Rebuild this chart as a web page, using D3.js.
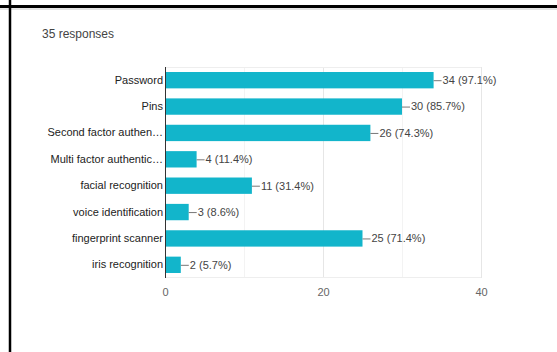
<!DOCTYPE html>
<html>
<head>
<meta charset="utf-8">
<script src="https://cdn.jsdelivr.net/npm/d3@7"></script>
<style>
  html, body { margin: 0; padding: 0; background: #fff; }
  svg { display: block; font-family: "Liberation Sans", Arial, sans-serif; }
</style>
</head>
<body>
<svg id="chart" width="557" height="352"></svg>
<script>
// Survey answers: how respondents authenticate
const categories = [
  "Password",
  "Pins",
  "Second factor authen\u2026",
  "Multi factor authentic\u2026",
  "facial recognition",
  "voice identification",
  "fingerprint scanner",
  "iris recognition"
];
const counts = [34, 30, 26, 4, 11, 3, 25, 2];
const percents = ["97.1%", "85.7%", "74.3%", "11.4%", "31.4%", "8.6%", "71.4%", "5.7%"];
const tickValues = [0, 20, 40];
const minorTicks = [10, 30];
const totalResponses = 35;

const svg = d3.select("#chart");

// Card frame
svg.append("rect").attr("x", 0).attr("y", 0).attr("width", 557).attr("height", 352).attr("fill", "#fff");
svg.append("line").attr("x1", 0).attr("x2", 557).attr("y1", 6.5).attr("y2", 6.5)
  .attr("stroke", "#000").attr("stroke-width", 3);
svg.append("line").attr("x1", 0).attr("x2", 557).attr("y1", 9).attr("y2", 9)
  .attr("stroke", "#c8c8c8").attr("stroke-width", 1);
svg.append("line").attr("x1", 10).attr("x2", 10).attr("y1", 0).attr("y2", 352)
  .attr("stroke", "#000").attr("stroke-width", 2.5);

svg.append("text")
  .attr("x", 42).attr("y", 38)
  .attr("font-size", 12).attr("fill", "#444")
  .text(`${totalResponses} responses`);

const plot = { left: 165, right: 481, top: 67, bottom: 278 };

const x = d3.scaleLinear().domain([0, 40]).range([plot.left, plot.right]);
const y = d3.scaleBand().domain(categories).range([plot.top, plot.bottom]).paddingInner(0.38).paddingOuter(0.19);

// Grid
const g = svg.append("g");
g.selectAll("line.minor").data(minorTicks).join("line")
  .attr("x1", d => x(d) + 0.5).attr("x2", d => x(d) + 0.5)
  .attr("y1", plot.top).attr("y2", plot.bottom)
  .attr("stroke", "#f3f3f3");
g.selectAll("line.major").data(tickValues.slice(1)).join("line")
  .attr("x1", d => x(d) + 0.5).attr("x2", d => x(d) + 0.5)
  .attr("y1", plot.top).attr("y2", plot.bottom)
  .attr("stroke", "#e6e6e6");
g.append("line").attr("x1", plot.left).attr("x2", plot.right)
  .attr("y1", plot.top + 0.5).attr("y2", plot.top + 0.5).attr("stroke", "#eeeeee");
g.append("line").attr("x1", plot.left).attr("x2", plot.right)
  .attr("y1", plot.bottom - 0.5).attr("y2", plot.bottom - 0.5).attr("stroke", "#eeeeee");

// Bars
svg.selectAll("rect.bar").data(categories).join("rect")
  .attr("class", "bar")
  .attr("x", x(0))
  .attr("y", d => y(d))
  .attr("width", (d, i) => x(counts[i]) - x(0))
  .attr("height", y.bandwidth())
  .attr("fill", "#12b5cb");

// Zero baseline
svg.append("line")
  .attr("x1", x(0) + 0.5).attr("x2", x(0) + 0.5)
  .attr("y1", plot.top).attr("y2", plot.bottom)
  .attr("stroke", "#333").attr("stroke-width", 1);

// Value labels with leader lines
const labels = svg.append("g");
categories.forEach((c, i) => {
  const xe = x(counts[i]);
  const yc = y(c) + y.bandwidth() / 2;
  labels.append("line")
    .attr("x1", xe).attr("x2", xe + 8)
    .attr("y1", yc + 0.5).attr("y2", yc + 0.5)
    .attr("stroke", "#777").attr("stroke-width", 1);
  labels.append("text")
    .attr("x", xe + 9).attr("y", yc)
    .attr("dy", "0.35em")
    .attr("font-size", 11).attr("fill", "#444")
    .text(`${counts[i]} (${percents[i]})`);
});

// Category axis
const yAxis = svg.append("g")
  .attr("transform", `translate(${plot.left},0)`)
  .call(d3.axisLeft(y).tickSize(0).tickPadding(2));
yAxis.select(".domain").remove();
yAxis.selectAll("text").attr("font-size", 11).attr("fill", "#222")
  .attr("font-family", "'Liberation Sans', Arial, sans-serif");

// Value axis
const xAxis = svg.append("g")
  .attr("transform", `translate(0,${plot.bottom})`)
  .call(d3.axisBottom(x).tickValues(tickValues).tickSize(0).tickPadding(10));
xAxis.select(".domain").remove();
xAxis.selectAll("text").attr("font-size", 11).attr("fill", "#666")
  .attr("font-family", "'Liberation Sans', Arial, sans-serif");
</script>
</body>
</html>
